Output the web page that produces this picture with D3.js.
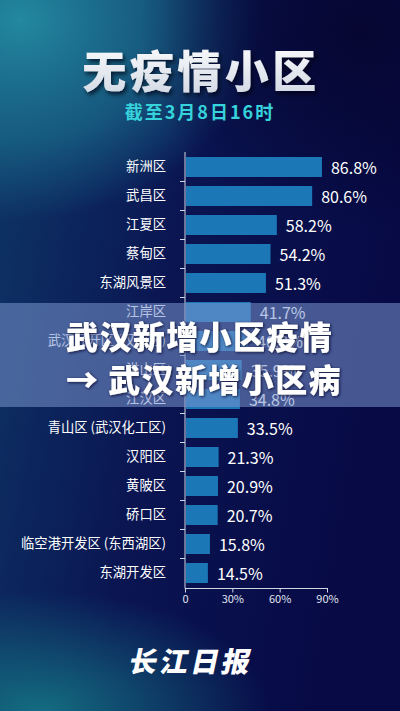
<!DOCTYPE html>
<html><head><meta charset="utf-8">
<script src="https://cdn.jsdelivr.net/npm/d3@7"></script>
<style>
html,body{margin:0;padding:0;background:#0a0d4a;}
svg{display:block;}
</style></head>
<body>
<svg id="c" width="400" height="711"></svg>
<script>
const categories = ["新洲区","武昌区","江夏区","蔡甸区","东湖风景区","江岸区","武汉经开区 (汉南区)","洪山区","江汉区","青山区 (武汉化工区)","汉阳区","黄陂区","硚口区","临空港开发区 (东西湖区)","东湖开发区"];
const values = [86.8,80.6,58.2,54.2,51.3,41.7,40.0,35.9,34.8,33.5,21.3,20.9,20.7,15.8,14.5];
const xTicks = [0,30,60,90];
const titleText = "无疫情小区";
const subtitleText = "截至3月8日16时";
const overlayLines = ["武汉新增小区疫情","→ 武汉新增小区病"];
const logoText = "长江日报";

const W=400,H=711;
const svg=d3.select("#c");
const defs=svg.append("defs");
const FONT="'Noto Sans CJK SC','Noto Sans',sans-serif";

// background
const lg=defs.append("linearGradient").attr("id","bgl").attr("x1","0").attr("y1","0").attr("x2","1").attr("y2","0.3");
lg.append("stop").attr("offset","0").attr("stop-color","#0e3766");
lg.append("stop").attr("offset","0.5").attr("stop-color","#0a1552");
lg.append("stop").attr("offset","1").attr("stop-color","#070a45");
svg.append("rect").attr("width",W).attr("height",H).attr("fill","url(#bgl)");
const r1=defs.append("radialGradient").attr("id","tl").attr("cx","0").attr("cy","0").attr("r","1")
  .attr("gradientUnits","userSpaceOnUse").attr("gradientTransform","translate(20,20) scale(240,200)");
r1.append("stop").attr("offset","0").attr("stop-color","#2388a0").attr("stop-opacity",1);
r1.append("stop").attr("offset","0.6").attr("stop-color","#1a6c8c").attr("stop-opacity",0.7);
r1.append("stop").attr("offset","1").attr("stop-color","#1a6c8c").attr("stop-opacity",0);
svg.append("rect").attr("width",W).attr("height",H).attr("fill","url(#tl)");
const r2=defs.append("radialGradient").attr("id","bl").attr("cx","0").attr("cy","0").attr("r","1")
  .attr("gradientUnits","userSpaceOnUse").attr("gradientTransform","translate(40,711) scale(230,120)");
r2.append("stop").attr("offset","0").attr("stop-color","#157a88").attr("stop-opacity",0.85);
r2.append("stop").attr("offset","1").attr("stop-color","#157a88").attr("stop-opacity",0);
svg.append("rect").attr("width",W).attr("height",H).attr("fill","url(#bl)");
const r3=defs.append("radialGradient").attr("id","tr").attr("cx","0").attr("cy","0").attr("r","1")
  .attr("gradientUnits","userSpaceOnUse").attr("gradientTransform","translate(360,30) scale(220,200)");
r3.append("stop").attr("offset","0").attr("stop-color","#05052e").attr("stop-opacity",0.9);
r3.append("stop").attr("offset","1").attr("stop-color","#05052e").attr("stop-opacity",0);
svg.append("rect").attr("width",W).attr("height",H).attr("fill","url(#tr)");

// title
const tg=defs.append("linearGradient").attr("id","tg").attr("x1","0").attr("y1","0").attr("x2","0").attr("y2","1");
tg.append("stop").attr("offset","0").attr("stop-color","#ffffff");
tg.append("stop").attr("offset","1").attr("stop-color","#cfd6e2");
const sh=defs.append("filter").attr("id","sh").attr("x","-10%").attr("y","-20%").attr("width","130%").attr("height","150%");
sh.append("feDropShadow").attr("dx",2).attr("dy",3).attr("stdDeviation",2).attr("flood-color","#000018").attr("flood-opacity",0.7);
svg.append("text").attr("x",201).attr("y",69).attr("text-anchor","middle").attr("dominant-baseline","central")
  .attr("font-family",FONT).attr("font-weight",900).attr("font-size",44).attr("letter-spacing",3.5)
  .attr("fill","url(#tg)").attr("filter","url(#sh)").text(titleText);
svg.append("text").attr("x",200).attr("y",111).attr("text-anchor","middle").attr("dominant-baseline","central")
  .attr("font-family",FONT).attr("font-weight",700).attr("font-size",18).attr("letter-spacing",2)
  .attr("fill","#36d3dc").text(subtitleText);

// chart
const x=d3.scaleLinear().domain([0,90]).range([185,327]);
const y=d3.scaleBand().domain(categories).range([152.5,587.5]).paddingInner(0.31).paddingOuter(0.155);
const g=svg.append("g");
g.selectAll("rect.bar").data(values).join("rect").attr("class","bar")
  .attr("x",x(0)+1).attr("y",(d,i)=>y(categories[i]))
  .attr("width",d=>x(d)-x(0)-1).attr("height",y.bandwidth()).attr("fill","#1b77b6");
g.selectAll("text.val").data(values).join("text").attr("class","val")
  .attr("x",d=>x(d)+9).attr("y",(d,i)=>y(categories[i])+y.bandwidth()/2)
  .attr("dominant-baseline","central").attr("font-family",FONT).attr("font-size",16)
  .attr("fill","#ffffff").text(d=>d.toFixed(1)+"%");

const yAxis=d3.axisLeft(y).tickSize(0).tickPadding(19);
const ya=g.append("g").attr("transform",`translate(${x(0)},0)`).call(yAxis);
ya.select(".domain").remove();
ya.selectAll("text").attr("font-family",FONT).attr("font-size",13.3).attr("fill","#ffffff");
// separator ticks on y axis
const step=y.step();
const bounds=categories.slice(1).map(c=>y(c)-(step-y.bandwidth())/2);
g.selectAll("line.yt").data(bounds).join("line").attr("class","yt")
  .attr("x1",x(0)-5).attr("x2",x(0)).attr("y1",d=>d).attr("y2",d=>d)
  .attr("stroke","#d0d6e4").attr("stroke-width",1);
g.append("line").attr("x1",x(0)).attr("x2",x(0)).attr("y1",152).attr("y2",588.5)
  .attr("stroke","#d0d6e4").attr("stroke-width",1);

const xAxis=d3.axisBottom(x).tickValues(xTicks).tickSize(4).tickPadding(3).tickFormat(d=>d===0?"0":d+"%");
const xa=g.append("g").attr("transform","translate(0,588.5)").call(xAxis);
xa.select(".domain").attr("stroke","#d0d6e4").attr("d",`M${x(0)},0H${x(90)+1}`);
xa.selectAll(".tick line").attr("stroke","#d0d6e4");
xa.selectAll("text").attr("font-family",FONT).attr("font-size",11).attr("fill","#e0e6f0");

// overlay band
svg.append("rect").attr("x",0).attr("y",303).attr("width",W).attr("height",104)
  .attr("fill","#7a96d0").attr("fill-opacity",0.55);
const osh=defs.append("filter").attr("id","osh").attr("x","-10%").attr("y","-30%").attr("width","130%").attr("height","160%");
osh.append("feDropShadow").attr("dx",1).attr("dy",1).attr("stdDeviation",1.5).attr("flood-color","#0a1030").attr("flood-opacity",0.9);
svg.selectAll("text.ov").data(overlayLines).join("text").attr("class","ov")
  .attr("x",66).attr("y",(d,i)=>335+i*42.5).attr("dominant-baseline","central")
  .attr("font-family",FONT).attr("font-weight",900).attr("font-size",32).attr("letter-spacing",1.4)
  .attr("fill","#ffffff").attr("filter","url(#osh)").text(d=>d);

// logo
svg.append("text").attr("x",0).attr("y",0).attr("transform","translate(192,660) skewX(-12)")
  .attr("text-anchor","middle").attr("dominant-baseline","central")
  .attr("font-family",FONT).attr("font-weight",900).attr("font-size",28).attr("letter-spacing",3)
  .attr("fill","#ffffff").text(logoText);
</script>
</body></html>
